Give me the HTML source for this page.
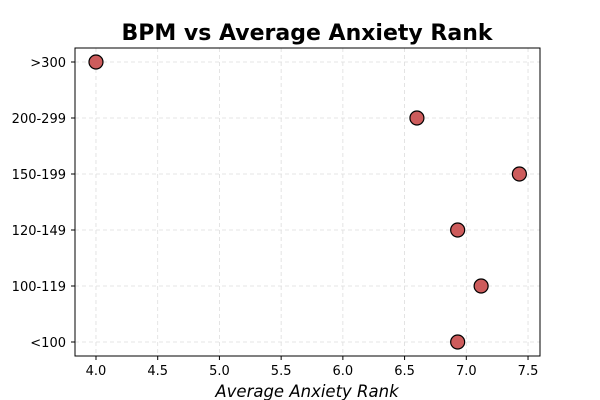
<!DOCTYPE html>
<html><head><meta charset="utf-8"><style>
body{margin:0;background:#fff;}
svg{display:block;font-family:"DejaVu Sans","Liberation Sans",sans-serif;}
</style></head><body>
<svg id="c" width="600" height="400" viewBox="0 0 600 400"></svg>
<script>
const categories=["<100","100-119","120-149","150-199","200-299",">300"];
const values=[6.93,7.12,6.93,7.43,6.60,4.0];
const xTicks=[4.0,4.5,5.0,5.5,6.0,6.5,7.0,7.5];
const L=75,R=540,T=48,B=356;
const xMin=3.83,xMax=7.597;
const ns="http://www.w3.org/2000/svg";
const svg=document.getElementById('c');
function x(v){return L+(v-xMin)/(xMax-xMin)*(R-L);}
function y(i){return 342-i*56;}
function el(t,a,p){const e=document.createElementNS(ns,t);for(const k in a)e.setAttribute(k,a[k]);(p||svg).appendChild(e);return e;}
xTicks.forEach(v=>{const g=el('line',{x1:x(v),x2:x(v),y1:T,y2:B,stroke:'#ddd','stroke-dasharray':'4,3','stroke-width':0.8});

});
categories.forEach((c,i)=>{const g=el('line',{x1:L,x2:R,y1:y(i),y2:y(i),stroke:'#ddd','stroke-dasharray':'4,3','stroke-width':0.8});

});
const f=el('rect',{x:L,y:T,width:R-L,height:B-T,fill:'none',stroke:'#000','stroke-width':1});


xTicks.forEach(v=>{el('line',{x1:x(v),x2:x(v),y1:B,y2:B+4,stroke:'#000'});
const t=el('text',{x:x(v),y:B+19,'text-anchor':'middle','font-size':13});t.textContent=v.toFixed(1);

});
categories.forEach((c,i)=>{el('line',{x1:L-4,x2:L,y1:y(i),y2:y(i),stroke:'#000'});
const t=el('text',{x:L-9,y:y(i)+5,'text-anchor':'end','font-size':13});t.textContent=c;

});
values.forEach((v,i)=>{const p=el('circle',{cx:x(v),cy:y(i),r:7,fill:'#cd5c5c',stroke:'#000','stroke-width':1.2});

});
const tt=el('text',{x:307,y:40,'text-anchor':'middle','font-size':22,'font-weight':'bold'});tt.textContent='BPM vs Average Anxiety Rank';


const xt=el('text',{x:307,y:397,'text-anchor':'middle','font-size':16.5,'font-style':'italic'});xt.textContent='Average Anxiety Rank';


const yt=el('text',{x:0,y:0,'text-anchor':'middle','font-size':16.5,'font-style':'italic',transform:'translate(-8,202) rotate(-90)'});yt.textContent='BPM';


</script>
</body></html>
